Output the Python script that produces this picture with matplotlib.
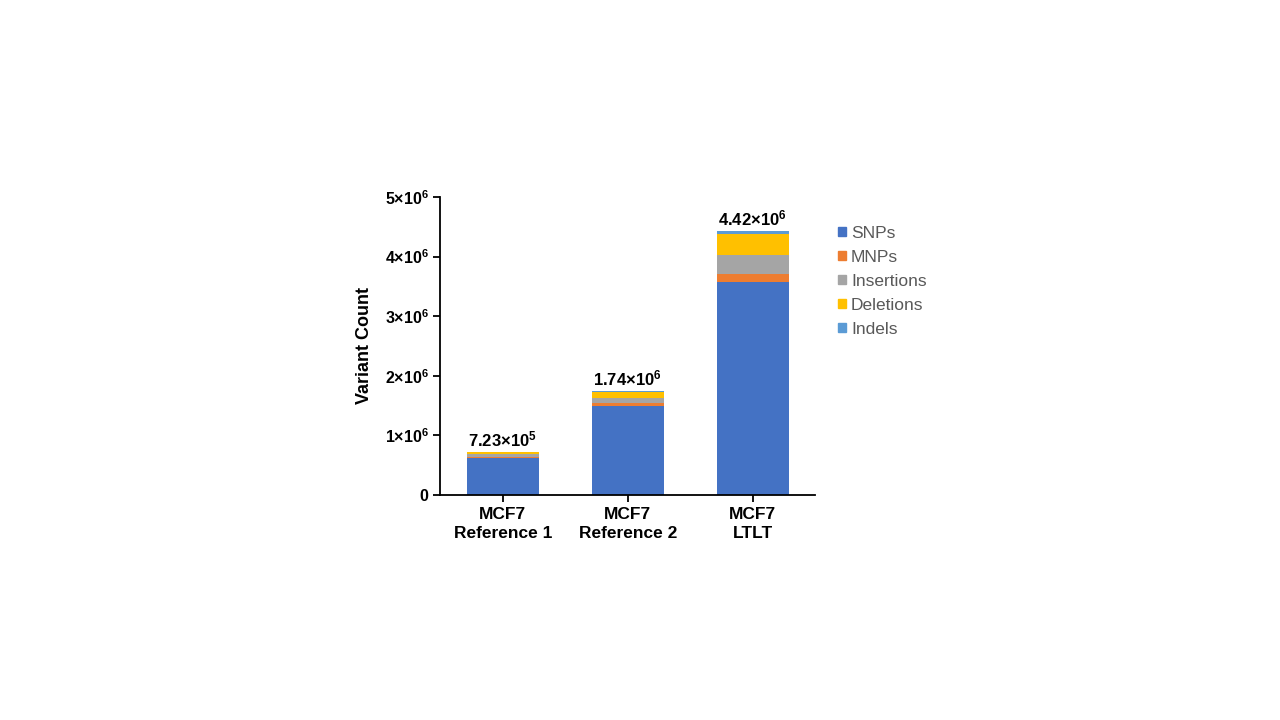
import numpy as np
import matplotlib.pyplot as plt
from matplotlib.patches import Patch

plt.rcParams['font.family'] = ['Liberation Sans', 'DejaVu Sans']
plt.rcParams['mathtext.fontset'] = 'custom'
plt.rcParams['mathtext.rm'] = 'Liberation Sans:bold'
plt.rcParams['mathtext.it'] = 'Liberation Sans:bold'
plt.rcParams['mathtext.bf'] = 'Liberation Sans:bold'

samples = ['MCF7\nReference 1', 'MCF7\nReference 2', 'MCF7\nLTLT']
snps = [0.620e6, 1.500e6, 3.580e6]
mnps = [0.020e6, 0.050e6, 0.120e6]
insertions = [0.040e6, 0.080e6, 0.320e6]
deletions = [0.040e6, 0.100e6, 0.350e6]
indels = [0.003e6, 0.010e6, 0.050e6]
totals = ['7.23×10$^5$', '1.74×10$^6$', '4.42×10$^6$']

series = [('SNPs', snps, '#4472C4'),
          ('MNPs', mnps, '#ED7D31'),
          ('Insertions', insertions, '#A5A5A5'),
          ('Deletions', deletions, '#FFC000'),
          ('Indels', indels, '#5B9BD5')]

fig = plt.figure(figsize=(12.8, 7.2), dpi=100)
ax = fig.add_axes([0.344, 0.3125, 0.293, 0.414])

x = np.arange(len(samples))
bottom = np.zeros(len(samples))
for name, vals, col in series:
    ax.bar(x, vals, 0.58, bottom=bottom, color=col, label=name)
    bottom += np.array(vals)

for xi, top, lab in zip(x, bottom, totals):
    ax.text(xi, top + 0.05e6, lab, ha='center', va='bottom',
            fontsize=12, fontweight='bold')

ax.set_xlim(-0.5, 2.5)
ax.set_ylim(0, 5e6)
ax.set_yticks([0, 1e6, 2e6, 3e6, 4e6, 5e6])
ax.set_yticklabels(['0', '1×10$^6$', '2×10$^6$', '3×10$^6$', '4×10$^6$', '5×10$^6$'],
                   fontweight='bold', fontsize=11.5)
ax.set_xticks(x)
ax.set_xticklabels(samples, fontweight='bold', fontsize=12.5, linespacing=1.35)
ax.set_ylabel('Variant Count', fontweight='bold', fontsize=13, labelpad=8)

for s in ['top', 'right']:
    ax.spines[s].set_visible(False)
for s in ['left', 'bottom']:
    ax.spines[s].set_linewidth(1.3)
ax.tick_params(axis='both', direction='out', length=5, width=1.3)

handles = [Patch(color=col, label=name) for name, vals, col in series]
leg = fig.legend(handles=handles, loc='upper left', bbox_to_anchor=(0.6425, 0.708),
                 frameon=False, handlelength=0.45, handleheight=0.45,
                 handletextpad=0.3, labelspacing=0.52, fontsize=12.5)
for t in leg.get_texts():
    t.set_color('#595959')

fig.savefig('out.png', dpi=100)
